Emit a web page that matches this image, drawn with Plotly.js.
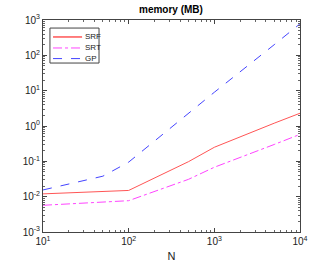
<!DOCTYPE html>
<html>
<head>
<meta charset="utf-8">
<script src="https://cdn.plot.ly/plotly-3.0.1.min.js"></script>
<style>html,body{margin:0;padding:0;background:#fff;}#chart{width:332px;height:266px;}</style>
</head>
<body>
<div id="chart"></div>
<script>
const N = [10, 50, 100, 500, 1000, 5000, 10000];
const srf = [0.012, 0.014, 0.015, 0.098, 0.25, 1.2, 2.3];
const srt = [0.0057, 0.0068, 0.0077, 0.031, 0.068, 0.30, 0.58];
const gp = [0.0155, 0.038, 0.095, 2.3, 9.0, 200, 780];
const seriesNames = ['SRF', 'SRT', 'GP'];
const xTickVals = [10, 100, 1000, 10000];
const xTickText = ['10<sup>1</sup>', '10<sup>2</sup>', '10<sup>3</sup>', '10<sup>4</sup>'];
const yTickVals = [0.001, 0.01, 0.1, 1, 10, 100, 1000];
const yTickText = ['10<sup>-3</sup>', '10<sup>-2</sup>', '10<sup>-1</sup>', '10<sup>0</sup>', '10<sup>1</sup>', '10<sup>2</sup>', '10<sup>3</sup>'];

const font = 'Liberation Sans, Arial, sans-serif';
const styles = [
  {color: '#ff5555', width: 1, dash: 'solid'},
  {color: '#ff44ff', width: 1, dash: 'dashdot'},
  {color: '#4444ff', width: 1, dash: 'dash'}
];
const ys = [srf, srt, gp];
const traces = ys.map((y, i) => ({x: N, y: y, name: seriesNames[i], mode: 'lines', line: styles[i], showlegend: false}));

const axisCommon = {
  type: 'log', showgrid: false, zeroline: false,
  showline: true, linecolor: '#444', linewidth: 1, mirror: 'ticks',
  ticks: 'inside', ticklen: 4, tickcolor: '#444',
  minor: {ticks: 'inside', ticklen: 2, tickcolor: '#666', dtick: 'D1', showgrid: false},
  tickfont: {family: font, size: 10, color: '#222'}
};

// custom legend (paper coordinates)
const legRows = [0.920, 0.868, 0.818];
const shapes = [{type: 'rect', xref: 'paper', yref: 'paper', x0: 0.027, x1: 0.218, y0: 0.797, y1: 0.962,
  line: {color: '#444', width: 1}, fillcolor: '#fff', layer: 'above'}];
const annotations = [];
seriesNames.forEach((nm, i) => {
  shapes.push({type: 'line', xref: 'paper', yref: 'paper', x0: 0.039, x1: 0.152, y0: legRows[i], y1: legRows[i],
    line: {color: styles[i].color, width: i === 0 ? 1.5 : 1, dash: styles[i].dash}, layer: 'above'});
  annotations.push({xref: 'paper', yref: 'paper', x: 0.160, y: legRows[i], xanchor: 'left', yanchor: 'middle',
    text: nm, showarrow: false, borderpad: 0, font: {family: font, size: 8, color: '#222'}});
});

const layout = {
  width: 332, height: 266,
  margin: {l: 43, r: 32, t: 20, b: 34},
  paper_bgcolor: '#fff', plot_bgcolor: '#fff',
  title: {text: '<b>memory (MB)</b>', font: {family: font, size: 10, color: '#000'}, x: 0.515, xanchor: 'center', y: 0.965, yanchor: 'middle'},
  xaxis: Object.assign({}, axisCommon, {range: [1, 4], tickvals: xTickVals, ticktext: xTickText,
    title: {text: 'N', font: {family: font, size: 11, color: '#222'}, standoff: 6}}),
  yaxis: Object.assign({}, axisCommon, {range: [-3, 3], tickvals: yTickVals, ticktext: yTickText}),
  showlegend: false,
  shapes: shapes,
  annotations: annotations
};
Plotly.newPlot('chart', traces, layout, {staticPlot: true, displayModeBar: false});
</script>
</body>
</html>
